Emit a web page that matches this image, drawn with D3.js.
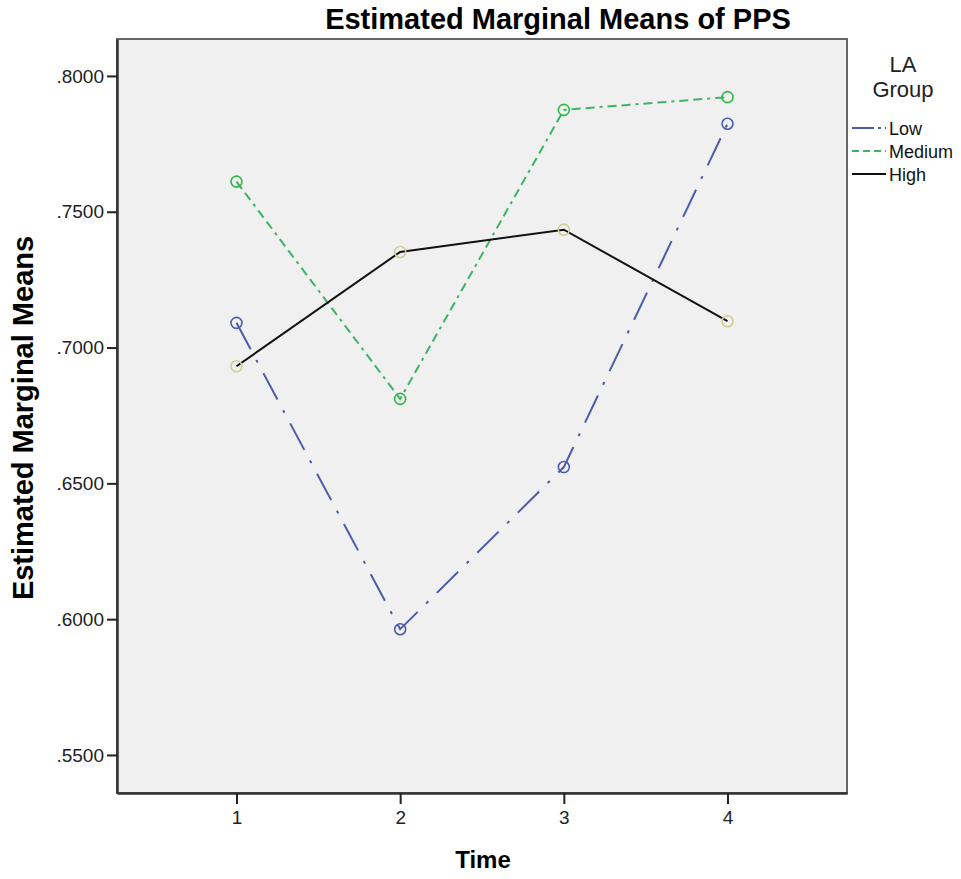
<!DOCTYPE html>
<html>
<head>
<meta charset="utf-8">
<script src="https://cdn.jsdelivr.net/npm/d3@7"></script>
<style>
  body { margin: 0; background: #fff; }
  svg { font-family: "Liberation Sans", Arial, sans-serif; }
</style>
</head>
<body>
<svg width="961" height="879"></svg>
<script>
// data
var times = [1, 2, 3, 4];
var groups = ["Low", "Medium", "High"];
var lowMeans = [0.7091, 0.5963, 0.6560, 0.7824];
var mediumMeans = [0.7611, 0.6811, 0.7875, 0.7922];
var highMeans = [0.6931, 0.7352, 0.7434, 0.7097];
var yTicks = [0.55, 0.60, 0.65, 0.70, 0.75, 0.80];

var series = [
  {name: "Low", values: lowMeans, color: "#4b5cab", marker: "#4b5cab", dash: "30,12,3,12"},
  {name: "Medium", values: mediumMeans, color: "#3cb464", marker: "#2eb848", dash: "9,5,9,5,3,5"},
  {name: "High", values: highMeans, color: "#111", marker: "#d3ce97", dash: null}
];

var svg = d3.select("svg");
var plotL = 117, plotR = 847, plotT = 39, plotB = 793;

var x = d3.scaleLinear().domain([0.27, 4.73]).range([plotL, plotR]);
var y = d3.scaleLinear().domain([0.536, 0.8136]).range([plotB, plotT]);

// plot background + frame
svg.append("rect")
  .attr("x", plotL).attr("y", plotT)
  .attr("width", plotR - plotL).attr("height", plotB - plotT)
  .attr("fill", "#f0f0f0")
  .attr("stroke", "#666").attr("stroke-width", 2);

// axes
var yAxis = d3.axisLeft(y).tickValues(yTicks).tickSizeInner(10).tickSizeOuter(0).tickPadding(3)
  .tickFormat(function(d) { return d3.format(".4f")(d).slice(1); });
var xAxis = d3.axisBottom(x).tickValues(times).tickSizeInner(11).tickSizeOuter(0).tickPadding(7)
  .tickFormat(d3.format("d"));

var gy = svg.append("g").attr("transform", "translate(" + plotL + ",0)").call(yAxis);
var gx = svg.append("g").attr("transform", "translate(0," + plotB + ")").call(xAxis);

[gy, gx].forEach(function(g) {
  g.select(".domain").attr("stroke", "#333").attr("stroke-width", 2.5);
  g.selectAll(".tick line").attr("stroke", "#222").attr("stroke-width", 2);
  g.selectAll(".tick text").attr("fill", "#222")
    .style("font-size", "19px").style("font-family", "Liberation Sans, Arial, sans-serif");
});

// lines and markers
var line = d3.line()
  .x(function(d, i) { return x(times[i]); })
  .y(function(d) { return y(d); });

series.forEach(function(s) {
  svg.append("path")
    .datum(s.values)
    .attr("d", line)
    .attr("fill", "none")
    .attr("stroke", s.color)
    .attr("stroke-width", 2)
    .attr("stroke-dasharray", s.dash);

  svg.selectAll(".pt-" + s.name)
    .data(s.values)
    .enter()
    .append("circle")
    .attr("cx", function(d, i) { return x(times[i]); })
    .attr("cy", function(d) { return y(d); })
    .attr("r", 5.5)
    .attr("fill", "none")
    .attr("stroke", s.marker)
    .attr("stroke-width", 1.6);
});

// titles
svg.append("text")
  .attr("x", 558).attr("y", 29)
  .attr("text-anchor", "middle")
  .style("font-size", "29px").style("font-weight", "bold")
  .text("Estimated Marginal Means of PPS");

svg.append("text")
  .attr("transform", "translate(33,418) rotate(-90)")
  .attr("text-anchor", "middle")
  .style("font-size", "29px").style("font-weight", "bold")
  .text("Estimated Marginal Means");

svg.append("text")
  .attr("x", 483).attr("y", 868)
  .attr("text-anchor", "middle")
  .style("font-size", "24px").style("font-weight", "bold")
  .text("Time");

// legend
var legend = svg.append("g");
legend.append("text").attr("x", 903).attr("y", 72).attr("text-anchor", "middle")
  .style("font-size", "22px").attr("fill", "#222").text("LA");
legend.append("text").attr("x", 903).attr("y", 97).attr("text-anchor", "middle")
  .style("font-size", "22px").attr("fill", "#222").text("Group");

var item = legend.selectAll(".item")
  .data(series)
  .enter()
  .append("g")
  .attr("transform", function(d, i) { return "translate(0," + (128 + i * 23) + ")"; });

item.append("line")
  .attr("x1", 852).attr("x2", 886)
  .attr("stroke", function(d) { return d.color; })
  .attr("stroke-width", 2)
  .attr("stroke-dasharray", function(d) { return d.name === "Low" ? "22,4,3,4" : (d.name === "Medium" ? "7,4" : null); });

item.append("text")
  .attr("x", 889).attr("y", 7)
  .style("font-size", "18px").attr("fill", "#111")
  .text(function(d) { return d.name; });
</script>
</body>
</html>
